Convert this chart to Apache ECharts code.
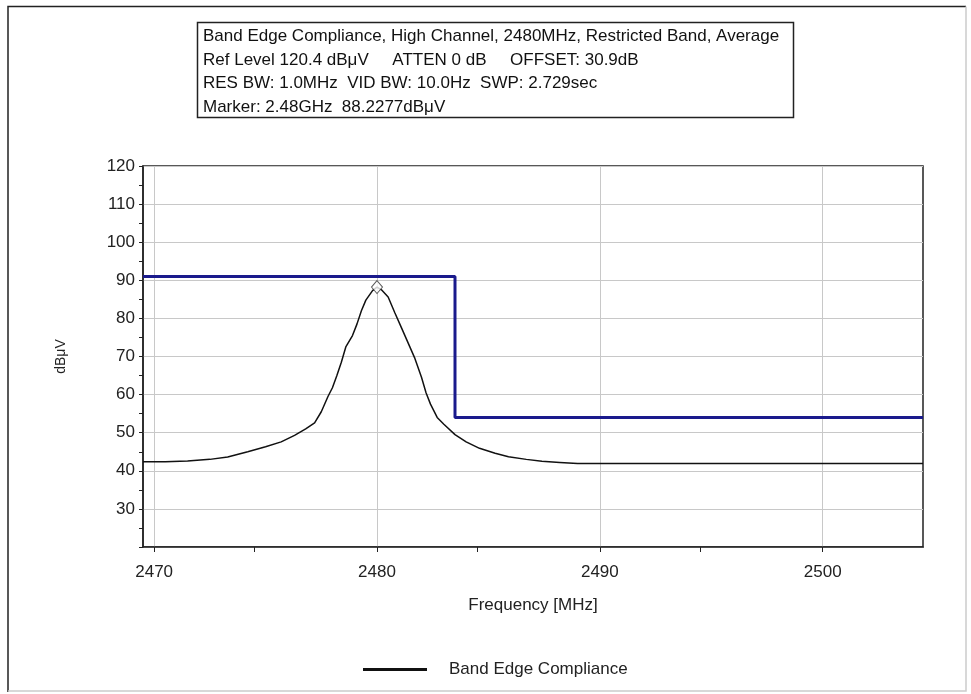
<!DOCTYPE html>
<html><head><meta charset="utf-8">
<script src="https://cdn.jsdelivr.net/npm/echarts@6/dist/echarts.min.js"></script>
<style>html,body{margin:0;padding:0;background:#fff}#c{width:971px;height:694px}</style>
</head><body><div id="c"></div>
<script>
const traceFreq = [2469.5,2470.5,2471.5,2472.5,2473.3,2474.2,2475.0,2475.7,2476.3,2476.8,2477.2,2477.5,2477.8,2478.0,2478.2,2478.4,2478.6,2478.9,2479.1,2479.3,2479.5,2479.8,2480.0,2480.2,2480.5,2480.8,2481.1,2481.4,2481.7,2482.0,2482.2,2482.4,2482.7,2483.0,2483.5,2484.0,2484.6,2485.3,2485.9,2486.7,2487.4,2488.2,2489.0,2504.5];
const traceLevel = [42.4,42.4,42.6,43.0,43.6,45.0,46.3,47.6,49.3,51.0,52.6,55.5,59.5,61.8,65.0,68.5,72.5,75.5,78.5,82.0,84.8,87.3,88.2,87.5,85.6,81.5,77.5,73.5,69.5,64.5,60.5,57.5,54.0,52.2,49.5,47.6,45.9,44.6,43.7,43.0,42.5,42.2,41.9,41.9];
const limitFreq = [2469.5,2483.5,2483.5,2504.5];
const limitLevel = [91,91,54,54];
const markerFreq = [2480.0];
const markerLevel = [88.2277];
const xTicks = [2470,2480,2490,2500];
const infoLines = [
  "Band Edge Compliance, High Channel, 2480MHz, Restricted Band, Average",
  "Ref Level 120.4 dB\u03bcV     ATTEN 0 dB     OFFSET: 30.9dB",
  "RES BW: 1.0MHz  VID BW: 10.0Hz  SWP: 2.729sec",
  "Marker: 2.48GHz  88.2277dB\u03bcV"
];
const seriesName = "Band Edge Compliance";
const xName = "Frequency [MHz]";
const yName = "dB\u03bcV";

const zip = (a,b)=>a.map((v,i)=>[v,b[i]]);
const chart = echarts.init(document.getElementById('c'), null, {renderer:'canvas'});
const F = 'Liberation Sans, Arial, sans-serif';
const infoTexts = infoLines.map((t,i)=>({type:'text', left:203, top:28+i*23.5, style:{text:t, font:'17px '+F, fill:'#111'}}));
chart.setOption({
  animation:false,
  backgroundColor:'#fff',
  grid:{left:143, top:166, right:48, bottom:147, show:true, borderColor:'#222', borderWidth:1.5},
  xAxis:{type:'value', min:2469.5, max:2504.5, interval:10,
    name:xName, nameLocation:'middle', nameGap:50, nameTextStyle:{fontFamily:F, fontSize:17, color:'#222'},
    axisLine:{show:true, onZero:false, lineStyle:{color:'#222', width:1.5}},
    axisTick:{show:true, length:5, lineStyle:{color:'#222'}, customValues:xTicks},
    minorTick:{show:true, splitNumber:2, length:5, lineStyle:{color:'#222'}},
    axisLabel:{fontFamily:F, fontSize:17, color:'#222', margin:17, customValues:xTicks, formatter:v=>String(v)},
    splitLine:{show:true, lineStyle:{color:'#c8c8c8'}, customValues:xTicks}
  },
  yAxis:{type:'value', min:20, max:120, interval:10,
    name:yName, nameLocation:'middle', nameGap:75, nameRotate:90, nameTextStyle:{fontFamily:F, fontSize:14, color:'#222'},
    axisLine:{show:true, lineStyle:{color:'#222', width:1.5}},
    axisTick:{show:true, length:4, lineStyle:{color:'#222'}},
    minorTick:{show:true, splitNumber:2, length:4, lineStyle:{color:'#222'}},
    axisLabel:{fontFamily:F, fontSize:17, color:'#222', margin:8, showMinLabel:false},
    splitLine:{show:true, lineStyle:{color:'#c8c8c8'}}
  },
  legend:{data:[seriesName], bottom:11, left:358, icon:'rect', itemWidth:64, itemHeight:3,
    textStyle:{fontFamily:F, fontSize:17, color:'#222', padding:[0,0,0,17]}},
  series:[
    {name:seriesName, type:'line', data:zip(traceFreq,traceLevel), symbol:'none',
      lineStyle:{color:'#111', width:1.5}, itemStyle:{color:'#111'}, z:3},
    {name:'Limit', type:'line', data:zip(limitFreq,limitLevel), symbol:'none',
      lineStyle:{color:'#1a1a8c', width:3}, itemStyle:{color:'#1a1a8c'}, z:2},
    {name:'Marker', type:'scatter', data:zip(markerFreq,markerLevel), symbol:'diamond', symbolSize:[11,13],
      itemStyle:{color:'#fff', borderColor:'#333', borderWidth:1}, z:4}
  ],
  graphic:[
    {type:'polyline', shape:{points:[[8,692],[8,6.5],[966,6.5]]}, style:{stroke:'#222', lineWidth:1.5, fill:null}},
    {type:'polyline', shape:{points:[[966,6.5],[966,691],[8,691]]}, style:{stroke:'#ccc', lineWidth:1.5, fill:null}},
    {type:'rect', shape:{x:197.5, y:22.5, width:596, height:95}, style:{fill:'#fff', stroke:'#222', lineWidth:1.5}},
    ...infoTexts
  ]
});
</script></body></html>
